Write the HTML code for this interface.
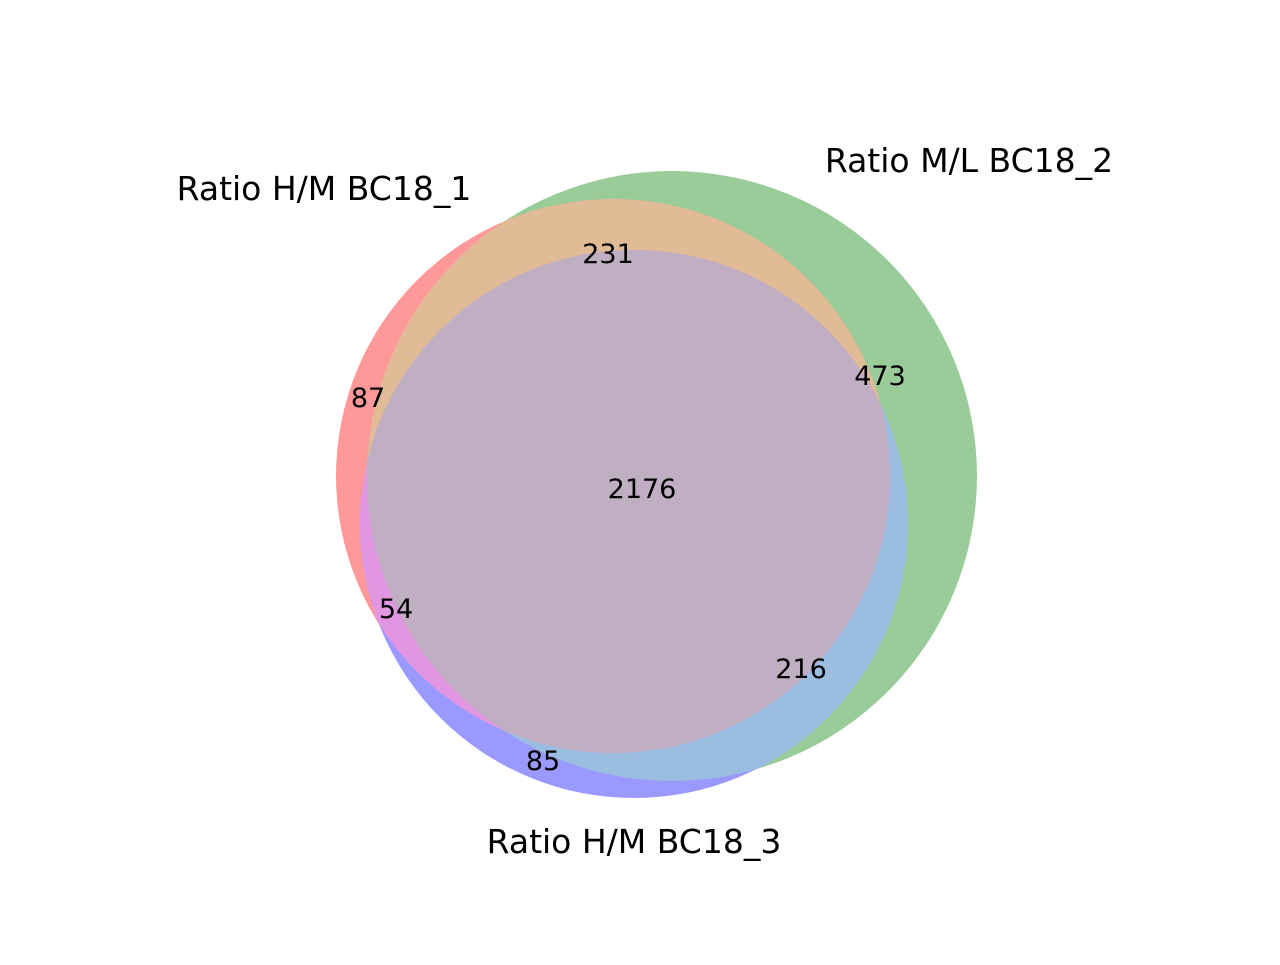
<!DOCTYPE html>
<html><head><meta charset="utf-8"><style>
body{margin:0;background:#fff}
svg text{font-family:"DejaVu Sans","Liberation Sans",sans-serif;fill:#000}
</style></head><body>
<svg width="1280" height="960" viewBox="0 0 1280 960">
<defs>
<clipPath id="cR"><circle cx="613" cy="476" r="277"/></clipPath>
<clipPath id="cG"><circle cx="672" cy="476" r="305"/></clipPath>
<clipPath id="cB"><circle cx="634" cy="524" r="274"/></clipPath>
</defs>
<g id="regions"></g>
<g id="labels"></g>
</svg>
<script>
const setNames = ["Ratio H/M BC18_1", "Ratio M/L BC18_2", "Ratio H/M BC18_3"];
const regionKeys = ["100", "010", "110", "001", "101", "011", "111"];
const regionCounts = [87, 473, 231, 85, 54, 216, 2176];
const NS = "http://www.w3.org/2000/svg";
const circles = [{cx:613,cy:476,r:277},{cx:672,cy:476,r:305},{cx:634,cy:524,r:274}];
const reg = document.getElementById("regions");
function circ(c, fill, clip, name){
  const e = document.createElementNS(NS,"circle");
  e.setAttribute("cx",c.cx);e.setAttribute("cy",c.cy);e.setAttribute("r",c.r);
  e.setAttribute("fill",fill);
  
  
  if(clip){const g=document.createElementNS(NS,"g");g.setAttribute("clip-path","url(#"+clip+")");g.appendChild(e);return g;}
  return e;
}
function wrap(el, clip){const g=document.createElementNS(NS,"g");g.setAttribute("clip-path","url(#"+clip+")");g.appendChild(el);return g;}
reg.appendChild(circ(circles[1],"#99cc99",null,"circle-set-2"));
reg.appendChild(circ(circles[0],"#ff9999",null,"circle-set-1"));
reg.appendChild(circ(circles[2],"#9999ff",null,"circle-set-3"));
reg.appendChild(circ(circles[0],"#e0bb96","cG","region-1-2"));
reg.appendChild(circ(circles[2],"#9bbde0","cG","region-2-3"));
reg.appendChild(circ(circles[2],"#e096e0","cR","region-1-3"));
reg.appendChild(wrap(circ(circles[2],"#c0aec2","cR","region-1-2-3"),"cG"));
const regionPos = {"100":[368,397],"010":[880,375],"110":[608,253],"001":[543,760],"101":[396,608],"011":[801,668],"111":[642,488]};
const lab = document.getElementById("labels");
regionKeys.forEach((k,i)=>{
  const t=document.createElementNS(NS,"text");
  t.setAttribute("x",regionPos[k][0]);t.setAttribute("y",regionPos[k][1]+10);
  t.setAttribute("text-anchor","middle");t.setAttribute("font-size","27");
  t.textContent=regionCounts[i];
  
  
  lab.appendChild(t);
});
const namePos=[[324,200],[969,172],[634,853]];
setNames.forEach((n,i)=>{
  const t=document.createElementNS(NS,"text");
  t.setAttribute("x",namePos[i][0]);t.setAttribute("y",namePos[i][1]);
  t.setAttribute("text-anchor","middle");t.setAttribute("font-size","33");
  t.textContent=n;
  
  
  lab.appendChild(t);
});
</script>
</body></html>
